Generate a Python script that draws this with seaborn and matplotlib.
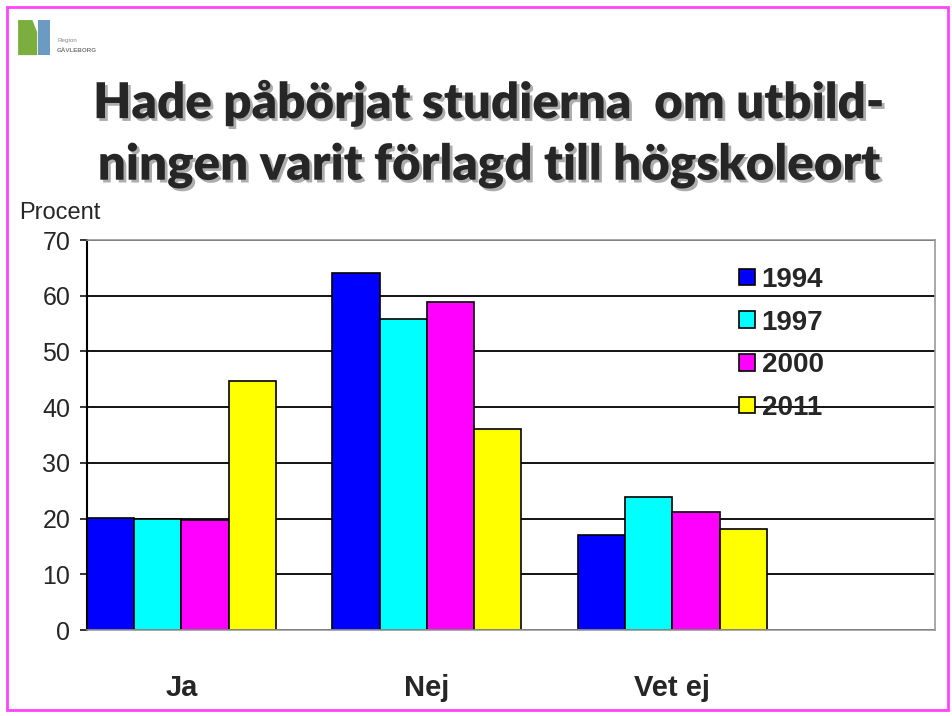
import pandas as pd
import seaborn as sns
import matplotlib.pyplot as plt
import matplotlib.patheffects as pe
from matplotlib.patches import Rectangle, Polygon

categories = ['Ja', 'Nej', 'Vet ej']
years = ['1994', '1997', '2000', '2011']
v1994 = [20.1, 64.1, 17.0]
v1997 = [20.0, 55.8, 23.9]
v2000 = [19.7, 58.8, 21.2]
v2011 = [44.7, 36.1, 18.1]
colors = ['#0000FF', '#00FFFF', '#FF00FF', '#FFFF00']

rows = []
for year, vals in zip(years, [v1994, v1997, v2000, v2011]):
    for cat, v in zip(categories, vals):
        rows.append({'svar': cat, 'år': year, 'procent': v})
df = pd.DataFrame(rows)

sns.set_style('white')
plt.rcParams['font.family'] = ['Liberation Sans', 'DejaVu Sans']

fig = plt.figure(figsize=(9.53, 7.16), dpi=100)
ax = fig.add_axes([0.0913, 0.1201, 0.8897, 0.5447])

sns.barplot(data=df, x='svar', y='procent', hue='år', palette=colors,
            width=0.77, gap=0, edgecolor='black', linewidth=1.2,
            saturation=1, ax=ax)

ax.set_ylim(0, 70)
ax.set_xlim(-0.385, 3.07)
ax.set_yticks(range(0, 71, 10))
ax.yaxis.grid(True, color='black', linewidth=1.3)
ax.set_axisbelow(True)
ax.tick_params(axis='y', labelsize=18, length=5, width=1.3, pad=7, direction='out', left=True)
ax.tick_params(axis='x', labelsize=21, length=0, pad=32)
for lab in ax.get_xticklabels():
    lab.set_fontweight('bold')
ax.set_xlabel('')
ax.set_ylabel('')
for s in ['top', 'right', 'bottom']:
    ax.spines[s].set_color('#999999')
    ax.spines[s].set_linewidth(1.2)
ax.spines['left'].set_color('black')
ax.spines['left'].set_linewidth(1.5)

leg = ax.legend(loc='upper left', bbox_to_anchor=(0.74, 0.995), frameon=False,
                prop={'weight': 'bold', 'size': 20}, handlelength=0.55,
                handleheight=0.55, handletextpad=0.25, labelspacing=0.6)

fig.text(0.020, 0.694, 'Procent', fontsize=17)

title_lines = ['Hade påbörjat studierna  om utbild-', 'ningen varit förlagd till högskoleort']
shadow = [pe.withSimplePatchShadow(offset=(2, -2), shadow_rgbFace='#777777', alpha=0.6)]
for y, line in zip([0.835, 0.749], title_lines):
    fig.text(0.513, y, line, ha='center', va='baseline', fontsize=35.5,
             fontweight='heavy', family=['Lato', 'DejaVu Sans'], path_effects=shadow)

# logo
fig.patches.append(Polygon([[0.019, 0.923], [0.019, 0.972], [0.034, 0.972], [0.039, 0.955],
                            [0.039, 0.923]], closed=True, transform=fig.transFigure,
                           facecolor='#7cae3f', edgecolor='none'))
fig.patches.append(Polygon([[0.040, 0.923], [0.040, 0.972], [0.052, 0.972], [0.052, 0.923]],
                           closed=True, transform=fig.transFigure,
                           facecolor='#6b9bc3', edgecolor='none'))
fig.text(0.060, 0.942, 'Region', fontsize=4.5, color='#888888')
fig.text(0.060, 0.927, 'GÄVLEBORG', fontsize=4.5, color='#777777', fontweight='bold')

# border
fig.patches.append(Rectangle((0.0075, 0.0085), 0.987, 0.982, transform=fig.transFigure,
                             fill=False, edgecolor='#ff44ff', linewidth=2))

fig.savefig('out.png', dpi=100)
